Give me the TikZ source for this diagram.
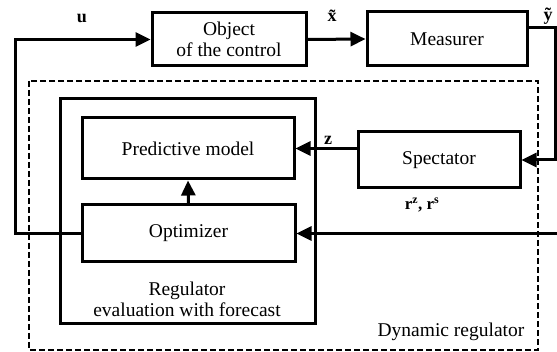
\documentclass[tikz,border=0pt]{standalone}
\usepackage{fontspec}
\setmainfont{Liberation Serif}
\usetikzlibrary{calc,arrows.meta,positioning}

\tikzset{
  block/.style={draw,line width=3pt,align=center,inner sep=0pt,font=\fontsize{19.5}{21}\selectfont},
  conn/.style={line width=3pt,-{Triangle[length=15pt,width=14pt]}},
  lbl/.style={font=\fontsize{18}{20}\selectfont\bfseries}
}

\begin{document}
\begin{tikzpicture}[x=1pt,y=-1pt]
    \useasboundingbox (0,0) rectangle (557,352);
    % outer and inner frames
    \draw[line width=2.2pt,dash pattern=on 6pt off 3pt] (29,81) rectangle (538,350);
    \node[draw,line width=3pt,minimum width=255pt,minimum height=225pt,inner sep=0pt] (reg) at (187.5,211.5) {};
    % blocks
    \node[block,minimum width=154pt,minimum height=53pt] (obj) at (229,39.5) {Object\\of the control};
    \node[block,minimum width=160pt,minimum height=54pt] (meas) at (447,39) {Measurer};
    \node[block,minimum width=212pt,minimum height=61pt] (pred) at (188,148.5) {Predictive model};
    \node[block,minimum width=213pt,minimum height=57pt] (opt) at (188.5,233.5) {Optimizer};
    \node[block,minimum width=162pt,minimum height=56pt] (spec) at (439,160) {Spectator};
    \coordinate (rin) at (557,233.5);
    \coordinate (back) at (15,0);
    \coordinate (side) at (555,0);
    % connectors
    \draw[conn] (opt.west) -| (back |- obj.west) -- (obj.west);
    \draw[conn] (obj.east) -- (meas.west);
    \draw[conn] ([yshift=11pt]meas.east) -| (side |- spec.east) -- (spec.east);
    \draw[conn] (spec.west |- pred.east) -- (pred.east);
    \draw[conn] (opt.north) -- (pred.south);
    \draw[conn] (rin) -- (opt.east);
    % labels
    \node[lbl] (lu) at (82,18) {u};
    \node[lbl] (lx) at (332,16) {\~x};
    \node[lbl] (ly) at (548,16) {\~y};
    \node[lbl] (lz) at (328,140) {z};
    \node[lbl,font=\fontsize{17}{19}\selectfont\bfseries] (lr) at (422,205) {r$^{\mathbf{z}}$, r$^{\mathbf{s}}$};
    \node[align=center,font=\fontsize{19.5}{21}\selectfont] (lreg) at (187,299) {Regulator\\evaluation with forecast};
    \node[font=\fontsize{19.5}{21}\selectfont] (ldyn) at (451,332) {Dynamic regulator};
\end{tikzpicture}
\end{document}
